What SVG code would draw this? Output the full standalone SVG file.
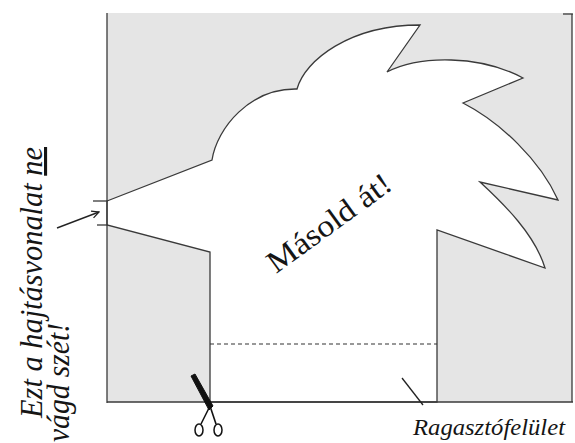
<svg xmlns="http://www.w3.org/2000/svg" width="575" height="443" viewBox="0 0 575 443">
  <style>
    .edge { fill: none; stroke: #3a3a3a; stroke-width: 1.3; stroke-linejoin: miter; }
    .cut { fill: #ffffff; stroke: #3a3a3a; stroke-width: 1.3; stroke-linejoin: miter; }
    .lbl { font-family: "Liberation Serif", "Times New Roman", serif; fill: #151515; }
    .it { font-style: italic; }
  </style>
  <defs>
    <marker id="open" viewBox="0 0 10 10" refX="9" refY="5" markerWidth="9" markerHeight="9" orient="auto" markerUnits="userSpaceOnUse">
      <path d="M1,1 L9,5 L1,9" fill="none" stroke="#222" stroke-width="1.4"/>
    </marker>
  </defs>

  <rect width="575" height="443" fill="#ffffff"/>

  <!-- sheet: grey background with the white cut-out shape -->
  <g id="sheet">
    <rect x="107" y="13" width="465" height="389" fill="#e5e5e5"/>
    <path id="cutout" class="cut"
      d="M107,201 L212,160 C217,128 250,88 297,89 C305,60 350,25 420,25 L387,72 C420,55 480,55 523,78 L463,103 C500,122 540,160 558,200 L480,182 C505,205 535,235 545,268 L437,230 L437,402 L210,402 L210,252 L107,225 Z"/>
    <line class="edge" x1="107" y1="13" x2="107" y2="403"/>
    <line class="edge" x1="107" y1="402" x2="573" y2="402"/>
    <line class="edge" x1="572" y1="14" x2="572" y2="402"/>
    <line class="edge" x1="563" y1="14" x2="573" y2="14"/>
    <line class="edge" x1="93" y1="201" x2="108" y2="201"/>
    <line class="edge" x1="97" y1="225" x2="108" y2="225"/>
    <!-- glue flap fold line -->
    <line x1="210" y1="344" x2="437" y2="344" stroke="#333" stroke-width="1.2" stroke-dasharray="4 3"/>
  </g>

  <!-- pointers -->
  <g id="connectors">
    <line x1="57" y1="228" x2="99" y2="212" stroke="#222" stroke-width="1.4" marker-end="url(#open)"/>
    <line x1="402" y1="378" x2="423" y2="405" stroke="#222" stroke-width="1.3"/>
  </g>

  <g id="label-copy">
    <text class="lbl" x="276" y="274" font-size="31" textLength="146" lengthAdjust="spacingAndGlyphs" transform="rotate(-36 276 274)">Másold át!</text>
  </g>

  <g id="label-fold">
    <text class="lbl it" x="0" y="0" font-size="31" transform="translate(42 418) rotate(-90)" textLength="271" lengthAdjust="spacingAndGlyphs">Ezt a hajtásvonalat <tspan text-decoration="underline">ne</tspan></text>
    <text class="lbl it" x="0" y="0" font-size="31" transform="translate(69 442) rotate(-90)" textLength="119" lengthAdjust="spacingAndGlyphs">vágd szét!</text>
  </g>

  <g id="label-glue">
    <text class="lbl it" x="413" y="435" font-size="23" textLength="152" lengthAdjust="spacingAndGlyphs">Ragasztófelület</text>
  </g>

  <!-- scissors at the cut line -->
  <g id="scissors" stroke="#111" fill="none">
    <path d="M191,376 L195,374 L213,406 L209,410 Z" fill="#111" stroke-width="1"/>
    <path d="M210,406 L201,424" stroke-width="1.6"/>
    <path d="M210,406 L216,424" stroke-width="1.6"/>
    <ellipse cx="199" cy="430" rx="4" ry="6" stroke-width="1.5"/>
    <ellipse cx="218" cy="430" rx="4" ry="6" stroke-width="1.5"/>
  </g>
</svg>
